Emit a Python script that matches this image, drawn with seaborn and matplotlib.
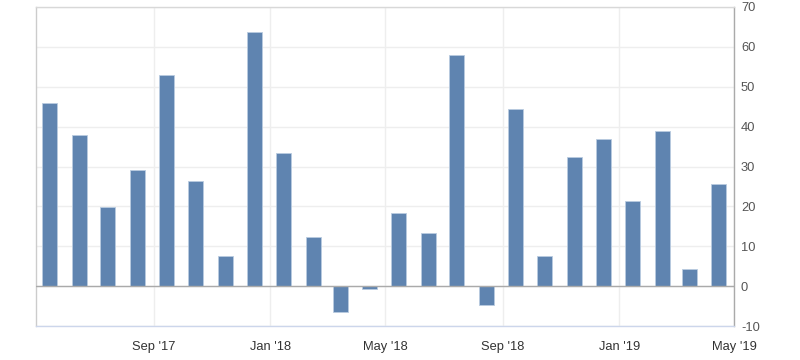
import pandas as pd
import numpy as np
import matplotlib
matplotlib.use('Agg')
import matplotlib.pyplot as plt
import matplotlib.dates as mdates
import seaborn as sns

# monthly values, May 2017 - Apr 2019 (bars at mid-month)
meses = pd.date_range('2017-05-01', periods=24, freq='MS') + pd.Timedelta(days=14)
valores = [45.9, 37.8, 19.8, 29.0, 52.9, 26.4, 7.5, 63.6, 33.4, 12.3, -6.5, -0.8,
           18.3, 13.3, 57.9, -4.6, 44.4, 7.5, 32.5, 36.8, 21.4, 39.0, 4.4, 25.6]

ticks_x = pd.to_datetime(['2017-09-01', '2018-01-01', '2018-05-01',
                          '2018-09-01', '2019-01-01', '2019-05-01'])
rotulos_x = ["Sep '17", "Jan '18", "May '18", "Sep '18", "Jan '19", "May '19"]
ticks_y = [-10, 0, 10, 20, 30, 40, 50, 60, 70]

sns.set_style('white')
plt.rcParams['font.family'] = ['Liberation Sans', 'DejaVu Sans']
plt.rcParams['axes.unicode_minus'] = False

dados = pd.DataFrame({'x': mdates.date2num(meses), 'valor': valores})

fig = plt.figure(figsize=(8, 3.6), dpi=100)
ax = fig.add_axes([0.045, 0.094, 0.8725, 0.887])

sns.barplot(data=dados, x='x', y='valor', native_scale=True, width=0.56,
            color='#5f84b0', saturation=1, edgecolor='#b9cbe0', linewidth=0.6,
            errorbar=None, ax=ax, zorder=3)

ax.set_xlim(mdates.date2num(pd.Timestamp('2017-05-01')), mdates.date2num(pd.Timestamp('2019-05-01')))
ax.set_ylim(-10, 70)

ax.set_xticks(mdates.date2num(ticks_x))
ax.set_xticklabels(rotulos_x)
ax.set_yticks(ticks_y)
ax.yaxis.tick_right()

ax.grid(True, color='#eeeeee', linewidth=1, zorder=0)
ax.axhline(0, color='#aaaaaa', linewidth=1, zorder=4)

ax.tick_params(axis='x', length=0, pad=11, labelsize=9.3, colors='#333333')
ax.tick_params(axis='y', length=0, pad=5, labelsize=9.3, colors='#555555')

ax.spines['top'].set_color('#d8d8d8')
ax.spines['left'].set_color('#cccccc')
ax.spines['bottom'].set_color('#ccd6eb')
ax.spines['right'].set_color('#aaaaaa')
for s in ax.spines.values():
    s.set_linewidth(1)

ax.set_xlabel('')
ax.set_ylabel('')

fig.savefig('out.png', dpi=100)
